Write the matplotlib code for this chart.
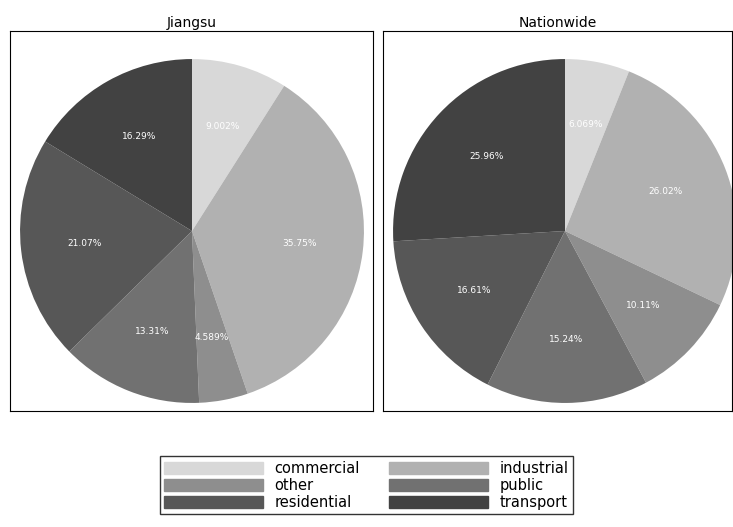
import numpy as np
import matplotlib.pyplot as plt

categories = ['commercial', 'industrial', 'other', 'public', 'residential', 'transport']
jiangsu = [9.002, 35.75, 4.589, 13.31, 21.07, 16.29]
nationwide = [6.069, 26.02, 10.11, 15.24, 16.61, 25.96]
colors = ['#d8d8d8', '#b1b1b1', '#8e8e8e', '#717171', '#575757', '#424242']

fig = plt.figure(figsize=(7.33, 5.27), dpi=100)
# (left, bottom, width, height) in pixels, center x offset from left of box
panels = [((10, 411, 363, 380), 182, jiangsu, 'Jiangsu'),
          ((383, 411, 349, 380), 182, nationwide, 'Nationwide')]
R = 0.905
for (l, b, w, h), cx, vals, title in panels:
    ax = fig.add_axes((l/733, 1-b/527, w/733, h/527))
    wedges, _ = ax.pie(vals, colors=colors, startangle=90, counterclock=False, radius=R)
    for wd, v in zip(wedges, vals):
        ang = np.deg2rad((wd.theta1 + wd.theta2) / 2)
        ax.text(0.63*R*np.cos(ang), 0.63*R*np.sin(ang), f'{v:.4g}%',
                ha='center', va='center', color='white', fontsize=6.5)
    ax.set_aspect('auto')
    ax.set_xlim(-cx/190, (w-cx)/190)
    ax.set_ylim(-(h-200)/190, 200/190)
    ax.set_frame_on(True)
    ax.set_xticks([])
    ax.set_yticks([])
    for s in ax.spines.values():
        s.set_visible(True)
        s.set_color('black')
    ax.set_title(title, fontsize=10, pad=3)

handles = [plt.Rectangle((0, 0), 1, 1, color=c) for c in colors]
order = [0, 2, 4, 1, 3, 5]
fig.legend([handles[i] for i in order], [categories[i] for i in order], ncol=2,
           loc='lower center', bbox_to_anchor=(0.5, 0.01),
           fontsize=10.5, handlelength=6.8, handleheight=0.9, fancybox=False, edgecolor='black',
           columnspacing=2.0, labelspacing=0.15, borderpad=0.3, handletextpad=0.8)
fig.savefig('out.png')
